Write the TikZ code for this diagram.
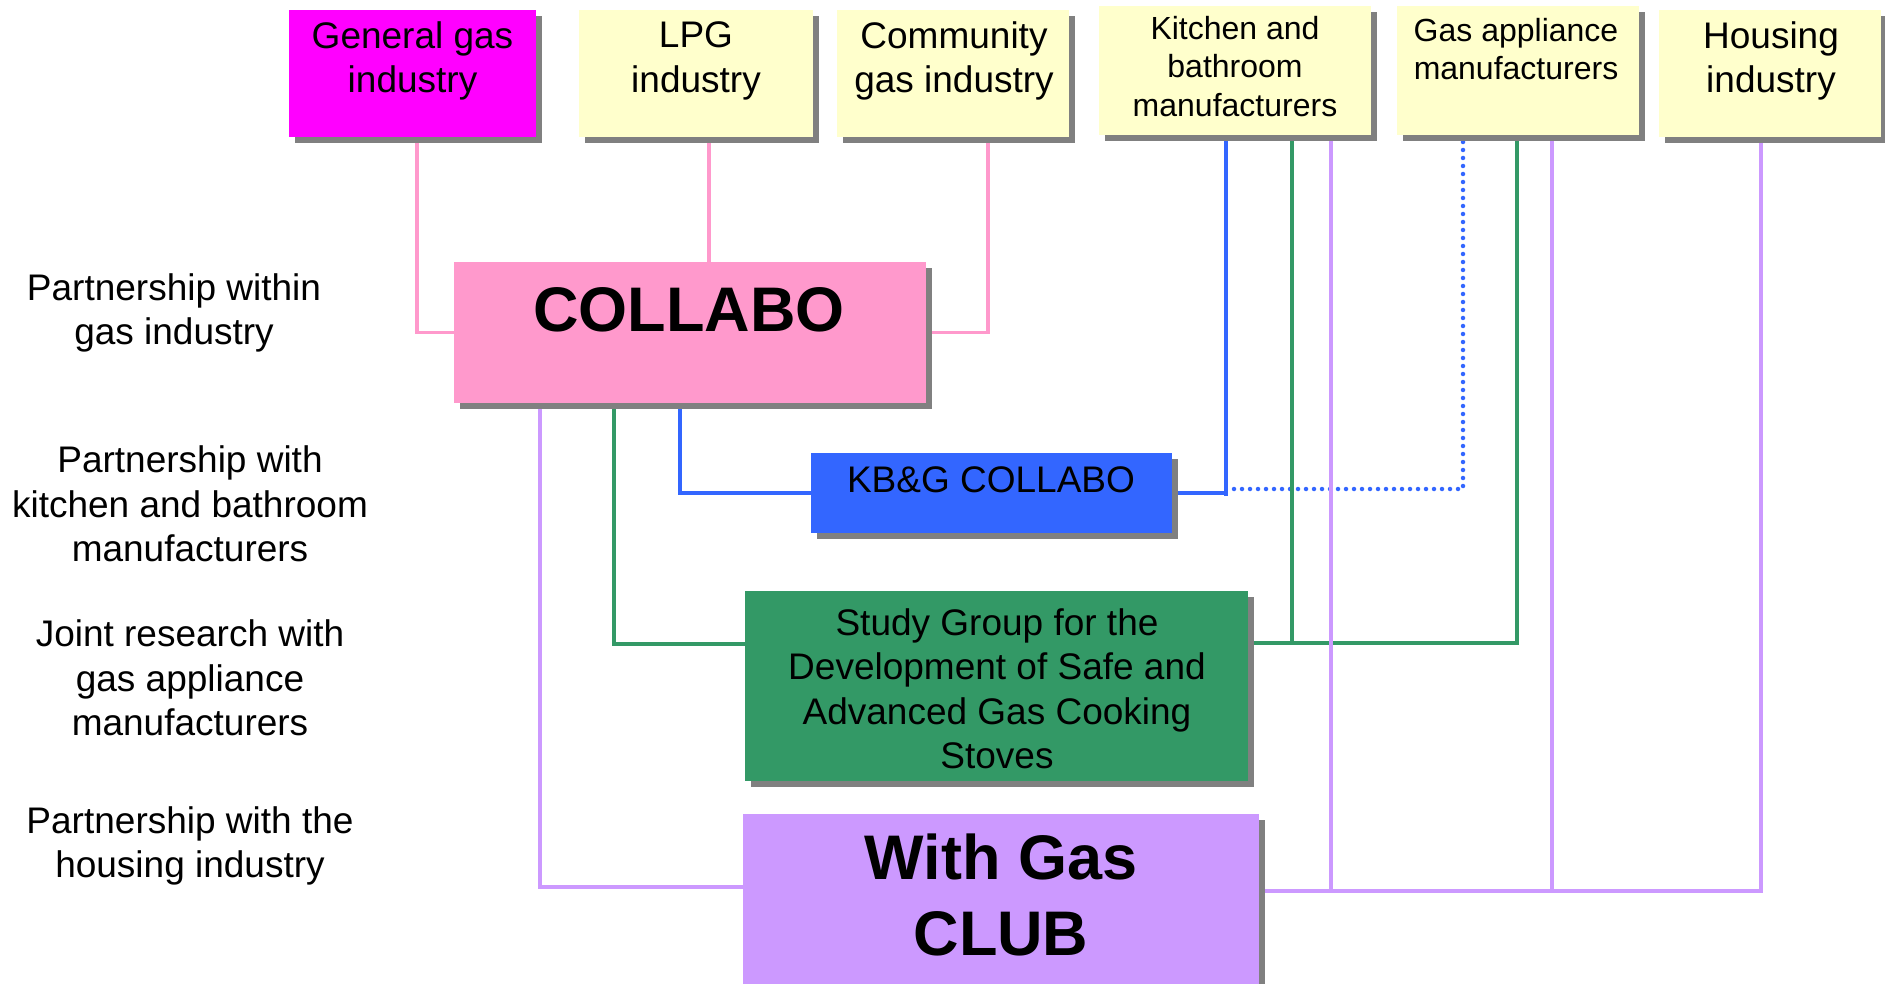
\documentclass[tikz,border=0pt]{standalone}
\usepackage{fontspec}
\setmainfont{Liberation Sans}
\usetikzlibrary{shadows,calc}
\definecolor{pinkc}{HTML}{FF99CC}
\definecolor{bluec}{HTML}{3366FF}
\definecolor{greenc}{HTML}{339966}
\definecolor{purpc}{HTML}{CC99FF}
\definecolor{yellowc}{HTML}{FFFFCC}
\definecolor{magc}{HTML}{FF00FF}
\definecolor{shadowc}{HTML}{808080}
\pgfdeclarelayer{bg}
\pgfsetlayers{bg,main}
\tikzset{
  box/.style={inner sep=0pt, outer sep=0pt, draw=none,
    drop shadow={shadow xshift=6pt, shadow yshift=-6pt, fill=shadowc, opacity=1}},
  txt/.style={inner sep=0pt, align=center, font=\fontsize{37}{44.5}\selectfont},
  smalltxt/.style={inner sep=0pt, align=center, font=\fontsize{32}{38.5}\selectfont},
  bigtxt/.style={inner sep=0pt, align=center, font=\bfseries\fontsize{63}{76}\selectfont},
  link/.style={line width=3.8pt},
  dotlink/.style={line width=4.5pt, dash pattern=on 0pt off 8pt, line cap=round},
}
\begin{document}
\begin{tikzpicture}[x=1pt,y=-1pt]
\useasboundingbox (0,0) rectangle (1885,984);

% top boxes
\node[box, fill=magc, minimum width=247pt, minimum height=127pt] (gen) at (412.5,73.5) {};
\node[box, fill=yellowc, minimum width=234pt, minimum height=127pt] (lpg) at (696,73.5) {};
\node[box, fill=yellowc, minimum width=232pt, minimum height=127pt] (com) at (953,73.5) {};
\node[box, fill=yellowc, minimum width=272pt, minimum height=129pt] (kit) at (1235,70.5) {};
\node[box, fill=yellowc, minimum width=242pt, minimum height=129pt] (gasapp) at (1518,70.5) {};
\node[box, fill=yellowc, minimum width=222pt, minimum height=127pt] (hous) at (1770,73.5) {};

% main boxes
\node[box, fill=pinkc, minimum width=472pt, minimum height=141pt] (collabo) at (690,332.5) {};
\node[box, fill=bluec, minimum width=361pt, minimum height=80pt] (kbg) at (991.5,493) {};
\node[box, fill=greenc, minimum width=503pt, minimum height=190pt] (study) at (996.5,686) {};
\node[box, fill=purpc, minimum width=516pt, minimum height=180pt] (club) at (1001,904) {};

% texts in boxes
\node[txt] (tgen) at (412.5,61) {General gas\\industry};
\node[txt] (tlpg) at (696,61) {LPG\\industry};
\node[txt] (tcom) at (954,61) {Community\\gas industry};
\node[smalltxt] (tkit) at (1235,66.5) {Kitchen and\\bathroom\\manufacturers};
\node[smalltxt] (tgas) at (1516,49) {Gas appliance\\manufacturers};
\node[txt] (thous) at (1771,61) {Housing\\industry};
\node[bigtxt] (tcollabo) at (689,310) {COLLABO};
\node[txt] (tkbg) at (991,480) {KB\&G COLLABO};
\node[txt] (tstudy) at (997,689) {Study Group for the\\Development of Safe and\\Advanced Gas Cooking\\Stoves};
\node[bigtxt] (tclub) at (1001,895) {With Gas\\CLUB};

% left labels
\node[txt] (l1) at (174,313) {Partnership within\\gas industry};
\node[txt] (l2) at (190,504) {Partnership with\\kitchen and bathroom\\manufacturers};
\node[txt] (l3) at (190,678) {Joint research with\\gas appliance\\manufacturers};
\node[txt] (l4) at (190,846) {Partnership with the\\housing industry};

% junction coordinates
\coordinate (bj) at ([xshift=-9pt]kit.south |- kbg.east);
\coordinate (gj) at ([yshift=43pt]study.east);
\coordinate (gl) at ([yshift=42pt]study.west);
\coordinate (pl) at ([yshift=17pt]club.west);
\coordinate (pr) at ([yshift=13pt]club.east);

\begin{pgfonlayer}{bg}
% pink
\draw[link,pinkc] ([xshift=4.5pt]gen.south) |- (collabo.west);
\draw[link,pinkc] ([xshift=13pt]lpg.south) -- ([xshift=13pt]lpg.south |- collabo.north);
\draw[link,pinkc] ([xshift=35pt]com.south) |- (collabo.east);
% blue
\draw[link,bluec] ([xshift=-10pt]collabo.south) |- (kbg.west);
\draw[link,bluec] ([xshift=-9pt]kit.south) -- ([yshift=-3pt]bj);
\draw[link,bluec] (kbg.east) -- (bj);
\draw[dotlink,bluec] ([xshift=8pt,yshift=4pt]bj) -| ([xshift=-55pt]gasapp.south);
% green
\draw[link,greenc] ([xshift=-76pt]collabo.south) |- (gl);
\draw[link,greenc] (gj) -| ([xshift=-1pt]gasapp.south);
\draw[link,greenc] ([xshift=57pt]kit.south) -- ([xshift=57pt]kit.south |- gj);
% purple
\draw[link,purpc] ([xshift=-150pt]collabo.south) |- (pl);
\draw[link,purpc] (pr) -| ([xshift=-9pt]hous.south);
\draw[link,purpc] ([xshift=96pt]kit.south) -- ([xshift=96pt]kit.south |- pr);
\draw[link,purpc] ([xshift=34pt]gasapp.south) -- ([xshift=34pt]gasapp.south |- pr);
\end{pgfonlayer}
\end{tikzpicture}
\end{document}
